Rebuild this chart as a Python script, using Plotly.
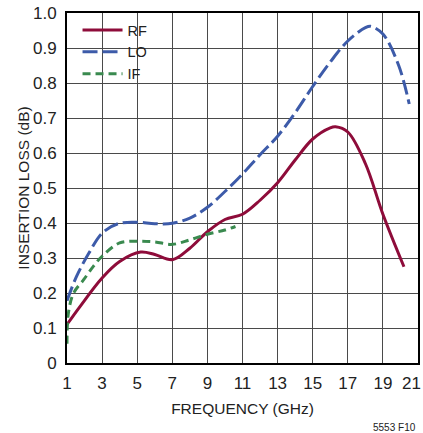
import plotly.graph_objects as go

# Data
rf_freq = [1.0, 1.75, 3.0, 4.0, 5.2, 6.0, 7.0, 8.0, 9.0, 10.0, 11.0, 12.0, 13.0, 14.0, 15.0, 16.0, 16.3, 17.0, 18.0, 19.0, 20.2]
rf_loss = [0.11, 0.162, 0.243, 0.29, 0.317, 0.31, 0.295, 0.328, 0.375, 0.41, 0.425, 0.465, 0.515, 0.58, 0.64, 0.672, 0.675, 0.66, 0.57, 0.425, 0.275]

lo_freq = [1.0, 1.55, 2.25, 3.0, 3.9, 5.0, 6.0, 7.0, 8.0, 9.0, 10.0, 11.0, 12.0, 13.0, 14.0, 15.0, 16.0, 17.0, 18.0, 18.3, 19.0, 19.9, 20.5]
lo_loss = [0.178, 0.248, 0.314, 0.371, 0.398, 0.402, 0.398, 0.399, 0.414, 0.445, 0.49, 0.54, 0.595, 0.648, 0.715, 0.79, 0.86, 0.92, 0.958, 0.962, 0.94, 0.85, 0.74]

if_freq = [1.0, 1.08, 1.38, 1.95, 2.5, 3.0, 4.0, 5.0, 6.0, 7.0, 8.0, 9.0, 10.0, 10.6]
if_loss = [0.055, 0.143, 0.2, 0.238, 0.276, 0.305, 0.343, 0.348, 0.346, 0.339, 0.352, 0.368, 0.38, 0.39]

x_ticks = [1, 3, 5, 7, 9, 11, 13, 15, 17, 19, 21]
x_tick_labels = ["1", "3", "5", "7", "9", "11", "13", "15", "17", "19", "21"]
y_ticks = [0, 0.1, 0.2, 0.3, 0.4, 0.5, 0.6, 0.7, 0.8, 0.9, 1.0]
y_tick_labels = ["0", "0.1", "0.2", "0.3", "0.4", "0.5", "0.6", "0.7", "0.8", "0.9", "1.0"]

FONT = "Liberation Sans, Arial, sans-serif"
TXT = "#222"

fig = go.Figure()
fig.add_trace(go.Scatter(x=rf_freq, y=rf_loss, name="RF", mode="lines",
                         line=dict(color="#8E0C3A", width=3, shape="spline", smoothing=1.0)))
fig.add_trace(go.Scatter(x=lo_freq, y=lo_loss, name="LO", mode="lines",
                         line=dict(color="#3D5BA9", width=3, shape="spline", smoothing=1.0, dash="15px,5px")))
fig.add_trace(go.Scatter(x=if_freq, y=if_loss, name="IF", mode="lines",
                         line=dict(color="#3A8A4F", width=3, shape="spline", smoothing=1.0, dash="8px,5px")))

axis_common = dict(showgrid=True, gridcolor="#4a4a4a", gridwidth=1,
                   showline=True, linecolor="black", linewidth=2, mirror=True,
                   ticks="", zeroline=False, automargin=False,
                   ticklabeloverflow="allow",
                   tickfont=dict(family=FONT, size=17, color=TXT))

# last x label is drawn as an annotation right-aligned to the page edge (as in the reference)
fig.update_xaxes(range=[1, 21], tickvals=x_ticks,
                 ticktext=x_tick_labels[:-1] + [""], ticklabelstandoff=4,
                 title=dict(text="FREQUENCY (GHz)", font=dict(family=FONT, size=15.5, color=TXT), standoff=11),
                 **axis_common)
fig.update_yaxes(range=[0, 1.0], tickvals=y_ticks, ticktext=y_tick_labels, ticklabelstandoff=5,
                 title=dict(text="INSERTION LOSS (dB)", font=dict(family=FONT, size=15.5, color=TXT), standoff=0),
                 **axis_common)

fig.update_layout(
    width=423, height=433,
    margin=dict(l=67, r=5, t=13, b=70),
    plot_bgcolor="white", paper_bgcolor="white",
    showlegend=True,
    legend=dict(x=0.03, y=0.997, xanchor="left", yanchor="top",
                bgcolor="rgba(255,255,255,0)", borderwidth=0,
                font=dict(family=FONT, size=14.5, color=TXT),
                tracegroupgap=0, itemwidth=40),
    shapes=[dict(type="rect", xref="paper", yref="paper", x0=0, x1=0.26, y0=0.797, y1=1,
                 fillcolor="white", line=dict(width=0), layer="between")],
    annotations=[
        dict(text=x_tick_labels[-1], x=x_ticks[-1], y=0, xref="x", yref="paper",
             xanchor="right", yanchor="middle", xshift=5, yshift=-20, showarrow=False,
             font=dict(family=FONT, size=17, color=TXT)),
        dict(text="5553 F10", x=1.0, y=0, xref="paper", yref="paper",
             xanchor="right", yanchor="middle", yshift=-64, showarrow=False,
             font=dict(family=FONT, size=10, color=TXT)),
    ],
)

fig.write_html("out.html", config={"displayModeBar": False},
               post_script="document.body.style.margin='0';document.body.style.overflow='hidden';")
